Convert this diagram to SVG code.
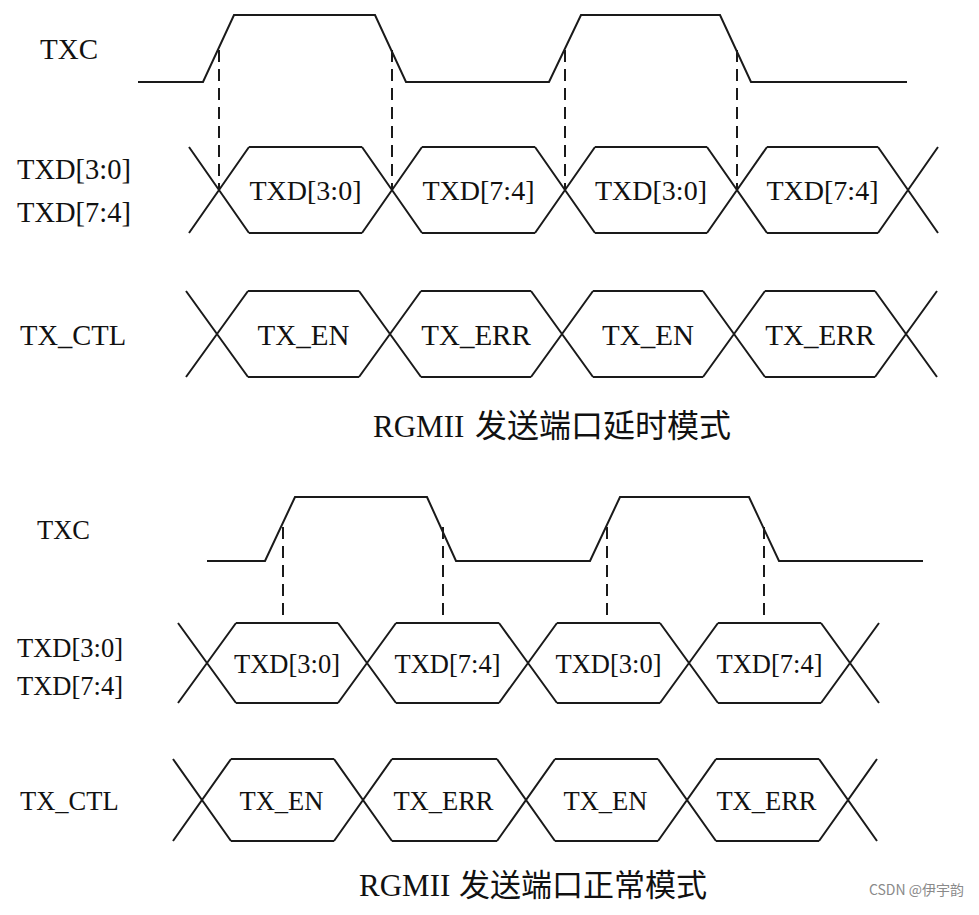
<svg xmlns="http://www.w3.org/2000/svg" width="979" height="915" viewBox="0 0 979 915">
<style>
.w{fill:none;stroke:#1a1a1a;stroke-width:2;stroke-linejoin:miter}
.d{fill:none;stroke:#1a1a1a;stroke-width:2;stroke-dasharray:12 7}
.t{font-family:"Liberation Serif","Times New Roman",serif;fill:#111}
.c{font-family:"Noto Sans CJK SC","Liberation Serif",sans-serif;fill:#111}
</style>
<rect width="979" height="915" fill="#ffffff"/>

<!-- ===== Top: delay mode ===== -->
<g id="top-txc">
<text class="t" x="40" y="59" font-size="29">TXC</text>
<path class="w" d="M138,82 H203 L234,15 H375 L406,82 H549 L581,15 H720 L751,82 H907"/>
</g>
<g id="top-txd">
<text class="t" x="17" y="179" font-size="28.5">TXD[3:0]</text>
<text class="t" x="17" y="222" font-size="28.5">TXD[7:4]</text>
<path class="w" d="M189,147 L249,233 M189,233 L249,147 M362,147 L422,233 M362,233 L422,147 M535,147 L595,233 M535,233 L595,147 M707,147 L767,233 M707,233 L767,147 M878,147 L938,233 M878,233 L938,147"/>
<path class="w" d="M249,147 H362 M249,233 H362 M422,147 H535 M422,233 H535 M595,147 H707 M595,233 H707 M767,147 H878 M767,233 H878"/>
<g class="t" font-size="28" text-anchor="middle">
<text x="305.5" y="200">TXD[3:0]</text>
<text x="478.5" y="200">TXD[7:4]</text>
<text x="651" y="200">TXD[3:0]</text>
<text x="822.5" y="200">TXD[7:4]</text>
</g>
</g>
<g id="top-txctl">
<text class="t" x="20" y="345" font-size="28.5">TX_CTL</text>
<path class="w" d="M186,291 L248,377 M186,377 L248,291 M359,291 L421,377 M359,377 L421,291 M531,291 L593,377 M531,377 L593,291 M703,291 L765,377 M703,377 L765,291 M875,291 L937,377 M875,377 L937,291"/>
<path class="w" d="M248,291 H359 M248,377 H359 M421,291 H531 M421,377 H531 M593,291 H703 M593,377 H703 M765,291 H875 M765,377 H875"/>
<g class="t" font-size="29" text-anchor="middle">
<text x="303.5" y="345">TX_EN</text>
<text x="476" y="345">TX_ERR</text>
<text x="648" y="345">TX_EN</text>
<text x="820" y="345">TX_ERR</text>
</g>
</g>
<g id="top-caption">
<text x="373" y="437"><tspan class="t" font-size="31">RGMII</tspan><tspan class="c" x="475" font-size="32">发送端口延时模式</tspan></text>
</g>

<!-- ===== Bottom: normal mode ===== -->
<g id="bot-txc">
<text class="t" x="37" y="539" font-size="26.5">TXC</text>
<path class="w" d="M207,561 H265 L295,497 H427 L456,561 H590 L620,497 H749 L779,561 H923"/>
</g>
<g id="bot-txd">
<text class="t" x="17" y="657" font-size="26.5">TXD[3:0]</text>
<text class="t" x="17" y="695" font-size="26.5">TXD[7:4]</text>
<path class="w" d="M178,623 L236,703 M178,703 L236,623 M338,623 L396,703 M338,703 L396,623 M499,623 L557,703 M499,703 L557,623 M660,623 L718,703 M660,703 L718,623 M821,623 L879,703 M821,703 L879,623"/>
<path class="w" d="M236,623 H338 M236,703 H338 M396,623 H499 M396,703 H499 M557,623 H660 M557,703 H660 M718,623 H821 M718,703 H821"/>
<g class="t" font-size="26.5" text-anchor="middle">
<text x="287" y="673">TXD[3:0]</text>
<text x="447.5" y="673">TXD[7:4]</text>
<text x="608.5" y="673">TXD[3:0]</text>
<text x="769.5" y="673">TXD[7:4]</text>
</g>
</g>
<g id="bot-txctl">
<text class="t" x="20" y="810" font-size="26.5">TX_CTL</text>
<path class="w" d="M173,759 L231,841 M173,841 L231,759 M334,759 L392,841 M334,841 L392,759 M497,759 L555,841 M497,841 L555,759 M658,759 L716,841 M658,841 L716,759 M819,759 L877,841 M819,841 L877,759"/>
<path class="w" d="M231,759 H334 M231,841 H334 M392,759 H497 M392,841 H497 M555,759 H658 M555,841 H658 M716,759 H819 M716,841 H819"/>
<g class="t" font-size="26.5" text-anchor="middle">
<text x="281.5" y="810">TX_EN</text>
<text x="443.5" y="810">TX_ERR</text>
<text x="605.5" y="810">TX_EN</text>
<text x="766.5" y="810">TX_ERR</text>
</g>
</g>
<g id="bot-caption">
<text x="359" y="896"><tspan class="t" font-size="31">RGMII</tspan><tspan class="c" x="459" font-size="31">发送端口正常模式</tspan></text>
</g>

<!-- ===== Connectors (timing reference dashes) ===== -->
<g id="connectors">
<path class="d" d="M219,50 V190 M392,50 V190 M565,50 V190 M737,50 V190"/>
<path class="d" d="M283,527 V623 M443,527 V623 M607,527 V623 M764,527 V623"/>
</g>

<text x="964" y="895" text-anchor="end" font-family="'Noto Sans CJK SC','Noto Sans',sans-serif" font-size="14" fill="#8a8a8a">CSDN @伊宇韵</text>
</svg>
